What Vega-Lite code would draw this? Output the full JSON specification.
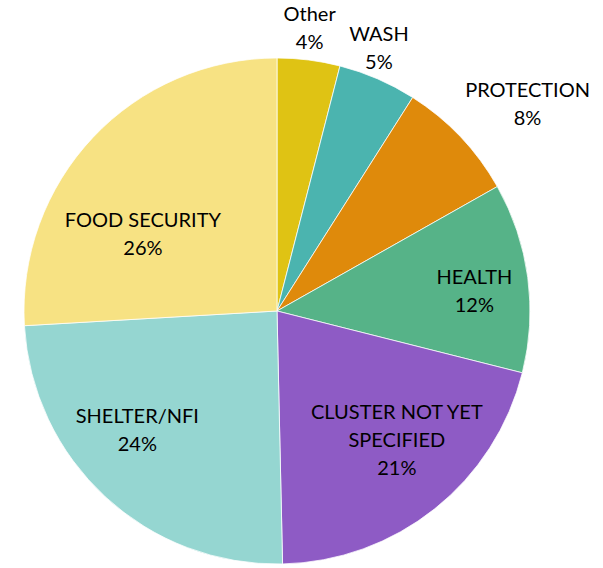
{
  "$schema": "https://vega.github.io/schema/vega-lite/v6.json",
  "autosize": {"type": "none"},
  "width": 554,
  "height": 506,
  "padding": {"left": 0, "top": 58, "right": 49, "bottom": 4},
  "background": "white",
  "config": {"view": {"stroke": null}},
  "data": {
    "values": [
      {"rank": 1, "cluster": "Other", "label": "Other\n4%", "value": 4.0},
      {"rank": 2, "cluster": "WASH", "label": "WASH\n5%", "value": 5.0},
      {"rank": 3, "cluster": "PROTECTION", "label": "PROTECTION\n8%", "value": 7.8},
      {"rank": 4, "cluster": "HEALTH", "label": "HEALTH\n12%", "value": 12.1},
      {"rank": 5, "cluster": "CLUSTER NOT YET SPECIFIED", "label": "CLUSTER NOT YET\nSPECIFIED\n21%", "value": 20.7},
      {"rank": 6, "cluster": "SHELTER/NFI", "label": "SHELTER/NFI\n24%", "value": 24.4},
      {"rank": 7, "cluster": "FOOD SECURITY", "label": "FOOD SECURITY\n26%", "value": 25.9}
    ]
  },
  "encoding": {
    "theta": {"field": "value", "type": "quantitative", "stack": true},
    "order": {"field": "rank", "type": "quantitative", "sort": "ascending"}
  },
  "layer": [
    {
      "mark": {"type": "arc", "stroke": "white", "strokeWidth": 0.75},
      "encoding": {
        "color": {
          "field": "cluster",
          "type": "nominal",
          "legend": null,
          "scale": {
            "domain": ["Other", "WASH", "PROTECTION", "HEALTH", "CLUSTER NOT YET SPECIFIED", "SHELTER/NFI", "FOOD SECURITY"],
            "range": ["#DFC314", "#4BB4AF", "#DF8A0B", "#56B388", "#8E5BC5", "#95D6D1", "#F7E283"]
          }
        }
      }
    },
    {
      "mark": {"type": "text", "radius": 284, "dx": -3, "dy": -14, "font": "Lato", "fontSize": 20, "lineBreak": "\n", "lineHeight": 28, "align": "center", "baseline": "middle", "color": "#000"},
      "encoding": {"text": {"condition": {"test": "datum.cluster === 'Other'", "field": "label"}, "value": ""}}
    },
    {
      "mark": {"type": "text", "radius": 284, "dx": -11, "dy": -15, "font": "Lato", "fontSize": 20, "lineBreak": "\n", "lineHeight": 28, "align": "center", "baseline": "middle", "color": "#000"},
      "encoding": {"text": {"condition": {"test": "datum.cluster === 'WASH'", "field": "label"}, "value": ""}}
    },
    {
      "mark": {"type": "text", "radius": 300, "dx": 33, "dy": -13, "font": "Lato", "fontSize": 20, "lineBreak": "\n", "lineHeight": 28, "align": "center", "baseline": "middle", "color": "#000"},
      "encoding": {"text": {"condition": {"test": "datum.cluster === 'PROTECTION'", "field": "label"}, "value": ""}}
    },
    {
      "mark": {"type": "text", "radius": 190, "dx": 9, "dy": -8, "font": "Lato", "fontSize": 20, "lineBreak": "\n", "lineHeight": 28, "align": "center", "baseline": "middle", "color": "#000"},
      "encoding": {"text": {"condition": {"test": "datum.cluster === 'HEALTH'", "field": "label"}, "value": ""}}
    },
    {
      "mark": {"type": "text", "radius": 165, "dx": 17, "dy": -27, "font": "Lato", "fontSize": 20, "lineBreak": "\n", "lineHeight": 28, "align": "center", "baseline": "middle", "color": "#000"},
      "encoding": {"text": {"condition": {"test": "datum.cluster === 'CLUSTER NOT YET SPECIFIED'", "field": "label"}, "value": ""}}
    },
    {
      "mark": {"type": "text", "radius": 175, "dx": -21, "dy": -23, "font": "Lato", "fontSize": 20, "lineBreak": "\n", "lineHeight": 28, "align": "center", "baseline": "middle", "color": "#000"},
      "encoding": {"text": {"condition": {"test": "datum.cluster === 'SHELTER/NFI'", "field": "label"}, "value": ""}}
    },
    {
      "mark": {"type": "text", "radius": 150, "dx": -25, "dy": 13, "font": "Lato", "fontSize": 20, "lineBreak": "\n", "lineHeight": 28, "align": "center", "baseline": "middle", "color": "#000"},
      "encoding": {"text": {"condition": {"test": "datum.cluster === 'FOOD SECURITY'", "field": "label"}, "value": ""}}
    }
  ]
}
